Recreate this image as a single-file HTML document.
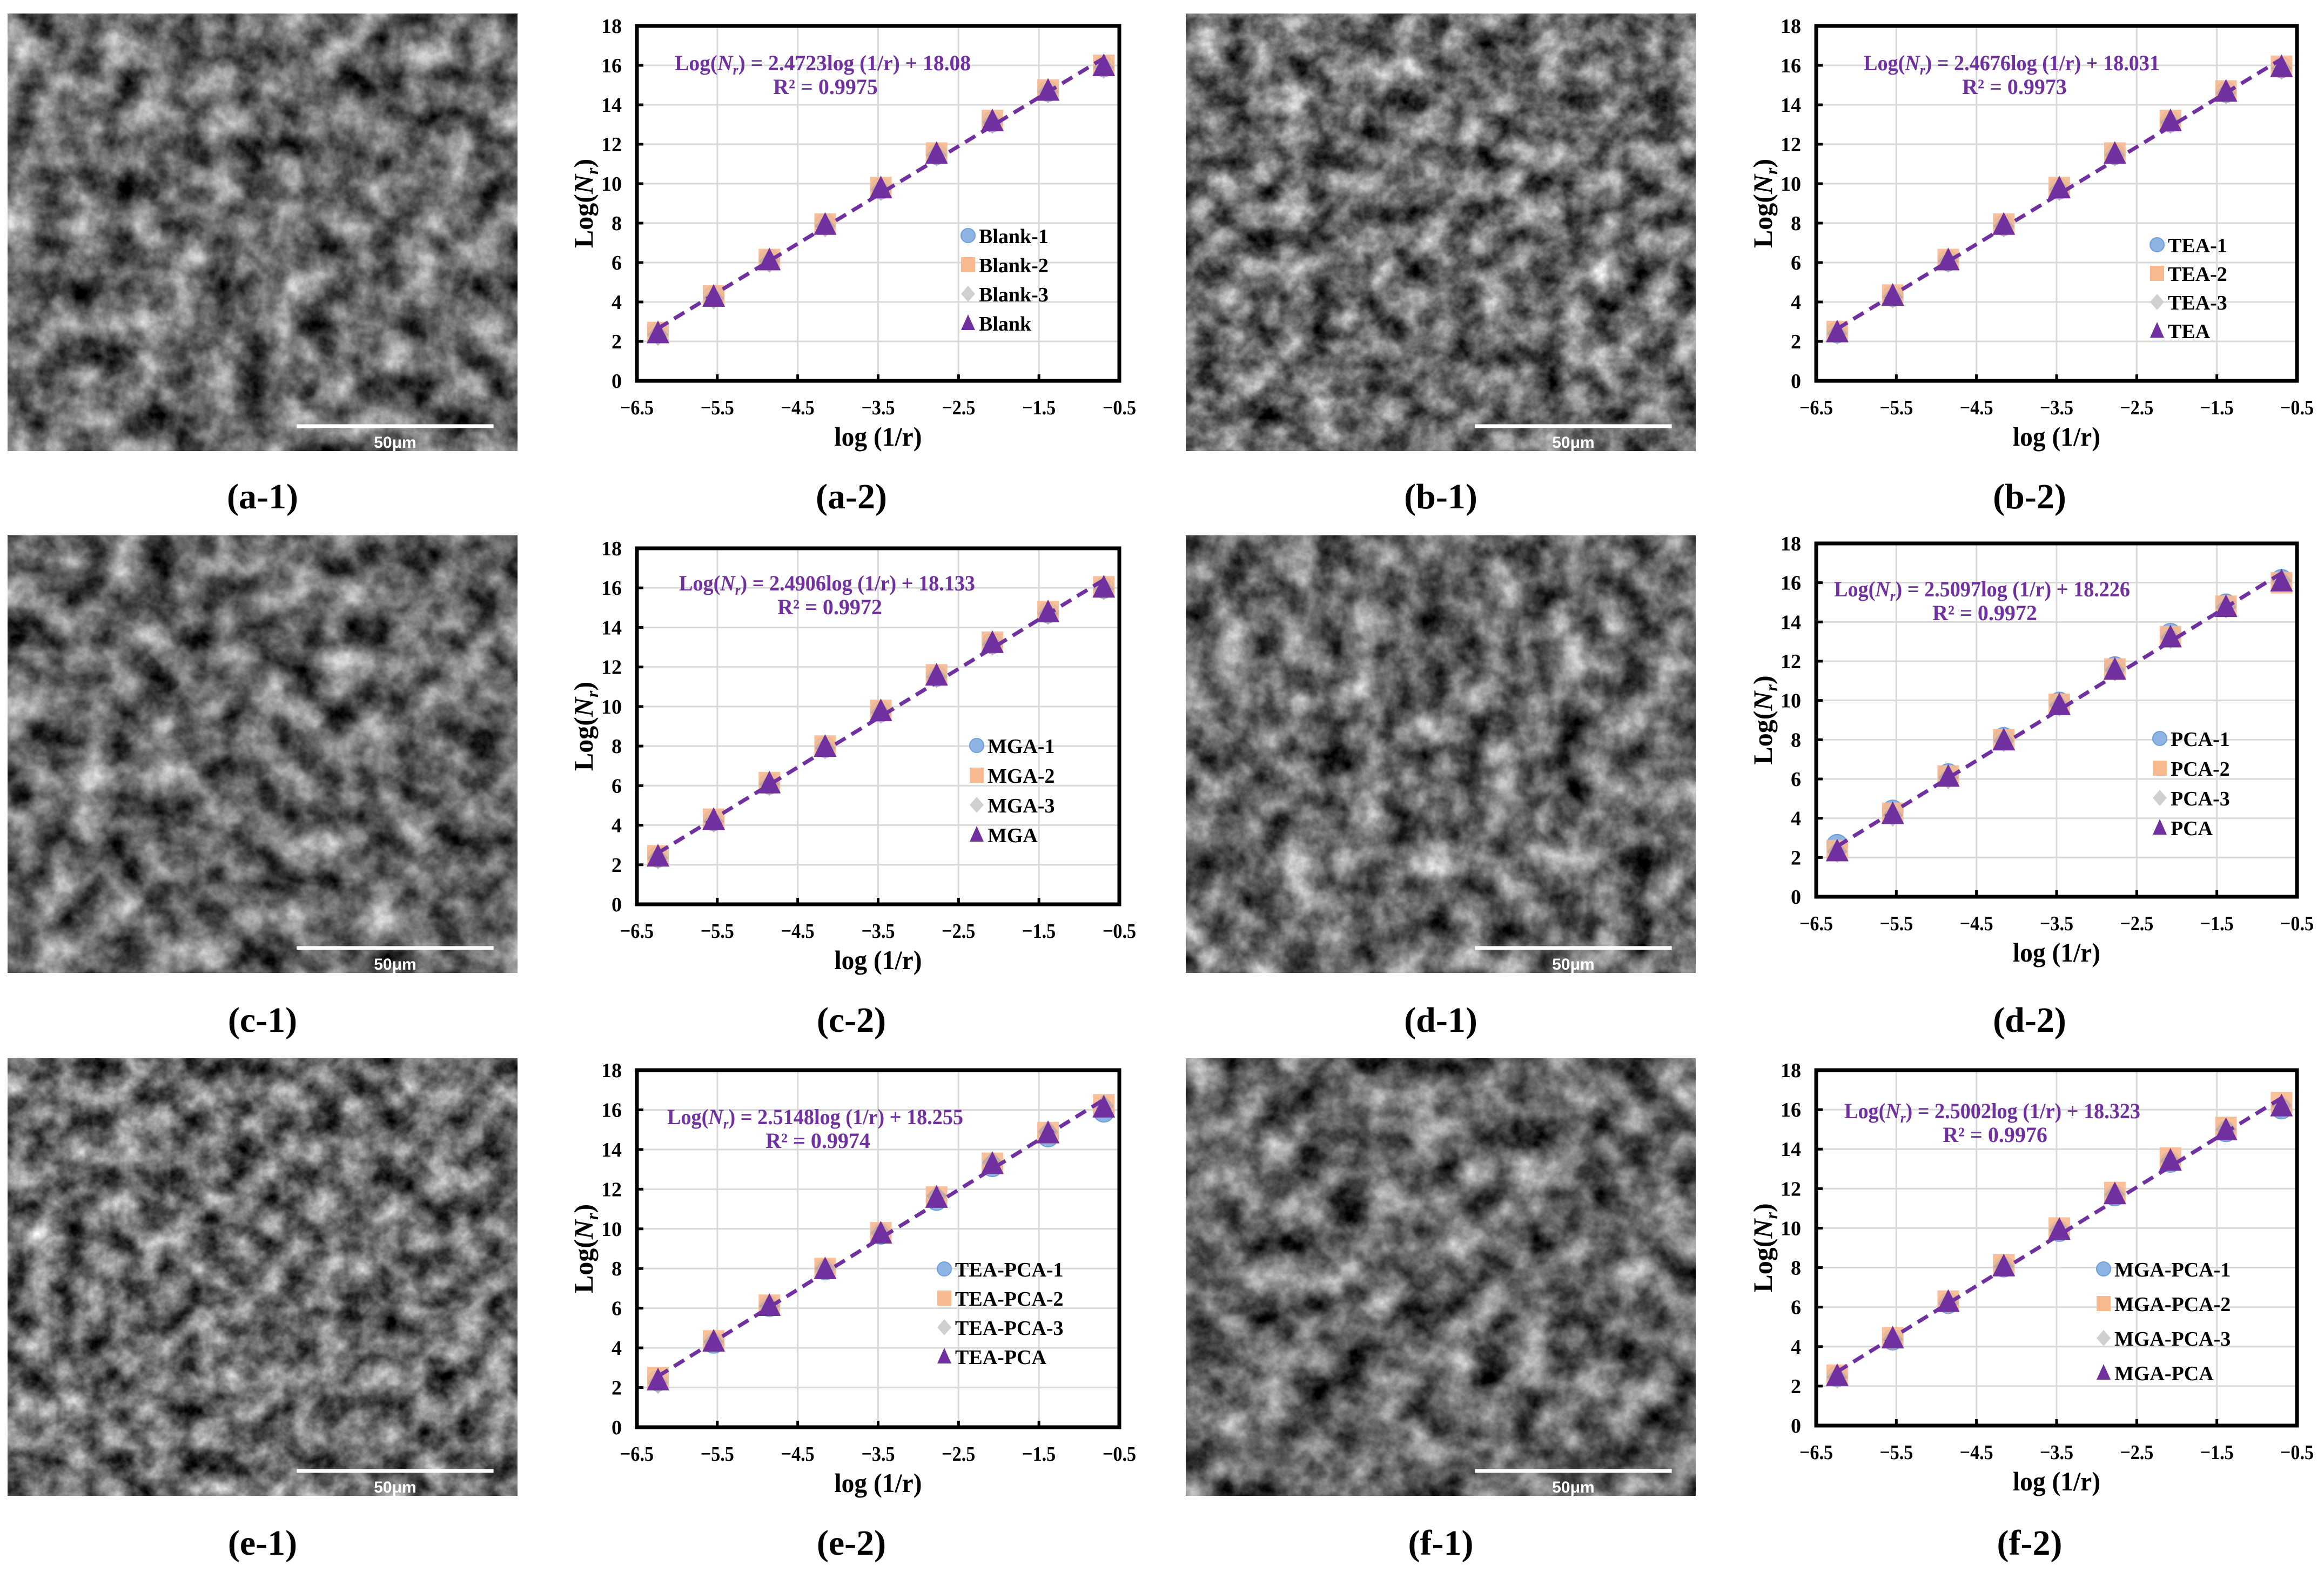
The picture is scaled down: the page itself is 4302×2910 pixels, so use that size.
<!DOCTYPE html>
<html>
<head>
<meta charset="utf-8">
<style>
html,body{margin:0;padding:0;background:#fff;}
svg{display:block;}
text{font-family:"Liberation Serif",serif;font-weight:bold;}
</style>
</head>
<body>
<svg id="fig" xmlns="http://www.w3.org/2000/svg" width="4302" height="2910" viewBox="0 0 4302 2910">
<defs>
<filter id="sem1" x="0" y="0" width="100%" height="100%" color-interpolation-filters="sRGB"><feTurbulence type="fractalNoise" baseFrequency="0.016" numOctaves="6" seed="3"/><feColorMatrix type="matrix" values="1.2 0 0 0 -0.19  1.2 0 0 0 -0.19  1.2 0 0 0 -0.19  0 0 0 0 1"/></filter>
<filter id="sem2" x="0" y="0" width="100%" height="100%" color-interpolation-filters="sRGB"><feTurbulence type="fractalNoise" baseFrequency="0.019" numOctaves="6" seed="11"/><feColorMatrix type="matrix" values="1.2 0 0 0 -0.18  1.2 0 0 0 -0.18  1.2 0 0 0 -0.18  0 0 0 0 1"/></filter>
<filter id="sem3" x="0" y="0" width="100%" height="100%" color-interpolation-filters="sRGB"><feTurbulence type="fractalNoise" baseFrequency="0.015" numOctaves="6" seed="27"/><feColorMatrix type="matrix" values="1.2 0 0 0 -0.2  1.2 0 0 0 -0.2  1.2 0 0 0 -0.2  0 0 0 0 1"/></filter>
</defs>
<rect width="4302" height="2910" fill="#fff"/>
<g id="images"></g>
<g id="charts"></g>
<g id="captions"></g>
</svg>
<script>
const NS = 'http://www.w3.org/2000/svg';
// ---- shared data ----
const xValues = [-6.238, -5.545, -4.852, -4.159, -3.466, -2.773, -2.079, -1.386, -0.693];
const xTicks = [-6.5, -5.5, -4.5, -3.5, -2.5, -1.5, -0.5];
const xTickLabels = ['\u22126.5', '\u22125.5', '\u22124.5', '\u22123.5', '\u22122.5', '\u22121.5', '\u22120.5'];
const yTicks = [0, 2, 4, 6, 8, 10, 12, 14, 16, 18];
const panelLabels = ['(a-1)', '(a-2)', '(b-1)', '(b-2)', '(c-1)', '(c-2)', '(d-1)', '(d-2)', '(e-1)', '(e-2)', '(f-1)', '(f-2)'];
// fit equations
const slopes = [2.4723, 2.4676, 2.4906, 2.5097, 2.5148, 2.5002];
const intercepts = [18.08, 18.031, 18.133, 18.226, 18.255, 18.323];
const r2Labels = ['0.9975', '0.9973', '0.9972', '0.9972', '0.9974', '0.9976'];
const seriesNames = ['Blank', 'TEA', 'MGA', 'PCA', 'TEA-PCA', 'MGA-PCA'];
// series values per chart (rep 1, rep 2, rep 3, mean)
const aRep1 = [2.45, 4.3, 6.15, 7.95, 9.75, 11.5, 13.15, 14.7, 15.95];
const aRep2 = [2.45, 4.3, 6.15, 7.95, 9.8, 11.55, 13.2, 14.75, 16.0];
const aRep3 = [2.35, 4.2, 6.05, 7.85, 9.7, 11.45, 13.1, 14.65, 15.9];
const aMean = [2.4, 4.25, 6.1, 7.9, 9.75, 11.5, 13.15, 14.7, 15.95];
const bRep1 = [2.45, 4.3, 6.1, 7.9, 9.75, 11.5, 13.15, 14.65, 15.9];
const bRep2 = [2.5, 4.35, 6.15, 7.95, 9.8, 11.55, 13.2, 14.7, 15.95];
const bRep3 = [2.4, 4.25, 6.05, 7.85, 9.7, 11.45, 13.1, 14.6, 15.85];
const bMean = [2.45, 4.3, 6.1, 7.9, 9.75, 11.5, 13.15, 14.65, 15.9];
const cRep1 = [2.4, 4.25, 6.1, 7.95, 9.75, 11.55, 13.2, 14.75, 16.0];
const cRep2 = [2.45, 4.3, 6.15, 8.0, 9.8, 11.6, 13.25, 14.8, 16.05];
const cRep3 = [2.35, 4.2, 6.05, 7.9, 9.7, 11.5, 13.15, 14.7, 15.95];
const cMean = [2.4, 4.25, 6.1, 7.95, 9.75, 11.55, 13.2, 14.75, 16.0];
const dRep1 = [2.65, 4.4, 6.25, 8.1, 9.9, 11.7, 13.4, 14.9, 16.15];
const dRep2 = [2.35, 4.25, 6.15, 8.0, 9.8, 11.6, 13.25, 14.8, 16.0];
const dRep3 = [2.3, 4.15, 6.05, 7.95, 9.75, 11.55, 13.2, 14.75, 16.1];
const dMean = [2.3, 4.2, 6.1, 7.95, 9.75, 11.55, 13.2, 14.75, 16.05];
const eRep1 = [2.35, 4.25, 6.1, 7.95, 9.75, 11.45, 13.15, 14.65, 15.9];
const eRep2 = [2.5, 4.35, 6.15, 8.0, 9.8, 11.6, 13.3, 14.85, 16.25];
const eRep3 = [2.25, 4.3, 6.1, 8.0, 9.8, 11.65, 13.35, 14.9, 16.2];
const eMean = [2.35, 4.3, 6.1, 7.95, 9.75, 11.55, 13.25, 14.8, 16.1];
const fRep1 = [2.5, 4.35, 6.2, 8.05, 9.85, 11.65, 13.35, 14.9, 16.05];
const fRep2 = [2.55, 4.45, 6.3, 8.15, 10.0, 11.8, 13.55, 15.1, 16.35];
const fRep3 = [2.45, 4.35, 6.2, 8.05, 9.9, 11.7, 13.4, 15.0, 16.2];
const fMean = [2.5, 4.4, 6.25, 8.05, 9.9, 11.7, 13.4, 14.95, 16.15];
const rep1Series = [aRep1, bRep1, cRep1, dRep1, eRep1, fRep1];
const rep2Series = [aRep2, bRep2, cRep2, dRep2, eRep2, fRep2];
const rep3Series = [aRep3, bRep3, cRep3, dRep3, eRep3, fRep3];
const meanSeries = [aMean, bMean, cMean, dMean, eMean, fMean];

// ---- layout (not data) ----
const plotBoxes = [
  [1179, 48, 2072, 705], [3362, 48, 4252, 705],
  [1179, 1015, 2072, 1674], [3362, 1006, 4252, 1660],
  [1179, 1981, 2072, 2642], [3362, 1981, 4252, 2639]
];
const eqPos = [[1523, 130], [3724, 130], [1531, 1093], [3669, 1104], [1509, 2081], [3688, 2070]];
const legendPos = [[1792, 436, 54], [3993, 453, 53], [1808, 1380, 55], [3998, 1367, 55], [1748, 2349, 54], [3894, 2349, 64]];
const imgBoxes = [[14, 25], [2195, 25], [14, 991], [2195, 991], [14, 1959], [2195, 1959]];
const IMG_W = 944, IMG_H = 810;
const capX = [486, 1576, 2667, 3757];
const capY = [919, 1888, 2856];

function mk(tag, attrs, parent) {
  const el = document.createElementNS(NS, tag);
  for (const k in attrs) el.setAttribute(k, attrs[k]);
  parent.appendChild(el);
  return el;
}
const gImg = document.getElementById('images');
const gCharts = document.getElementById('charts');
const gCap = document.getElementById('captions');

const imgNames = ['a-1', 'b-1', 'c-1', 'd-1', 'e-1', 'f-1'];
imgBoxes.forEach((b, i) => {
  const g = mk('g', {}, gImg);
  
  
  const fid = 'url(#sem' + ((i % 3) + 1) + ')';
  mk('rect', {x: b[0], y: b[1], width: IMG_W, height: IMG_H, fill: '#666', filter: fid}, g);
  const bx1 = b[0] + IMG_W * 0.567, bx2 = b[0] + IMG_W * 0.953, by = b[1] + IMG_H * 0.943;
  const bar = mk('line', {x1: bx1, y1: by, x2: bx2, y2: by, stroke: '#fff', 'stroke-width': 7}, g);
  
  
  const t = mk('text', {x: (bx1 + bx2) / 2, y: by + 40, 'text-anchor': 'middle', fill: '#fff', 'font-size': 30, style: 'font-family:"Liberation Sans",sans-serif'}, g);
  t.textContent = '50\u03bcm';
  
  
});

function drawChart(ci) {
  const [L, T, R, B] = plotBoxes[ci];
  const sx = v => L + (v - (-6.5)) / 6 * (R - L);
  const sy = v => B - v / 18 * (B - T);
  const g = mk('g', {}, gCharts);
  
  
  const grid = mk('g', {}, g);
  
  
  xTicks.forEach(v => mk('line', {x1: sx(v), y1: T, x2: sx(v), y2: B, stroke: '#d9d9d9', 'stroke-width': 3}, grid));
  yTicks.forEach(v => mk('line', {x1: L, y1: sy(v), x2: R, y2: sy(v), stroke: '#d9d9d9', 'stroke-width': 3}, grid));
  xTicks.forEach((v, i) => {
    mk('line', {x1: sx(v), y1: B, x2: sx(v), y2: B - 12, stroke: '#000', 'stroke-width': 5}, g);
    const t = mk('text', {x: sx(v), y: B + 62, 'text-anchor': 'middle', 'font-size': 38, textLength: 62, lengthAdjust: 'spacingAndGlyphs'}, g);
    t.textContent = xTickLabels[i];
    
    
  });
  yTicks.forEach(v => {
    mk('line', {x1: L, y1: sy(v), x2: L + 12, y2: sy(v), stroke: '#000', 'stroke-width': 5}, g);
    const t = mk('text', {x: L - 28, y: sy(v) + 13, 'text-anchor': 'end', 'font-size': 38}, g);
    t.textContent = String(v);
    
    
  });
  const fr = mk('rect', {x: L, y: T, width: R - L, height: B - T, fill: 'none', stroke: '#000', 'stroke-width': 7}, g);
  
  
  const xt = mk('text', {x: (L + R) / 2, y: B + 120, 'text-anchor': 'middle', 'font-size': 50, textLength: 162, lengthAdjust: 'spacingAndGlyphs'}, g);
  xt.textContent = 'log (1/r)';
  
  
  const yc = (T + B) / 2;
  const yt = mk('text', {x: 0, y: 0, 'text-anchor': 'middle', 'font-size': 50, transform: 'translate(' + (L - 82) + ',' + yc + ') rotate(-90)'}, g);
  yt.innerHTML = 'Log(<tspan font-style="italic">N</tspan><tspan font-style="italic" font-size="32" dy="10">r</tspan><tspan dy="-10">)</tspan>';
  
  
  const s1 = mk('g', {}, g);
  
  
  rep1Series[ci].forEach((v, i) => mk('circle', {cx: sx(xValues[i]), cy: sy(v), r: 19, fill: '#8eb4e3', stroke: '#6f9fd8', 'stroke-width': 2}, s1));
  const s2 = mk('g', {}, g);
  
  
  rep2Series[ci].forEach((v, i) => mk('rect', {x: sx(xValues[i]) - 20, y: sy(v) - 20, width: 40, height: 40, fill: '#f8b98f', 'fill-opacity': 0.9}, s2));
  const s3 = mk('g', {}, g);
  
  
  rep3Series[ci].forEach((v, i) => { const x = sx(xValues[i]), y = sy(v); mk('polygon', {points: [x, y - 21, x + 19, y, x, y + 21, x - 19, y].join(','), fill: '#b8a8a8', 'fill-opacity': 0.8}, s3); });
  const s4 = mk('g', {}, g);
  
  
  meanSeries[ci].forEach((v, i) => { const x = sx(xValues[i]), y = sy(v); mk('polygon', {points: [x, y - 24, x + 21, y + 18, x - 21, y + 18].join(','), fill: '#7030a0'}, s4); });
  const x0 = xValues[0], x1 = xValues[xValues.length - 1];
  const fl = mk('line', {x1: sx(x0), y1: sy(slopes[ci] * x0 + intercepts[ci]), x2: sx(x1), y2: sy(slopes[ci] * x1 + intercepts[ci]), stroke: '#7030a0', 'stroke-width': 7, 'stroke-dasharray': '22 13'}, g);
  
  
  const [ex, ey] = eqPos[ci];
  const eq = mk('text', {x: ex, y: ey, 'text-anchor': 'middle', 'font-size': 40, fill: '#7030a0', textLength: 548, lengthAdjust: 'spacingAndGlyphs'}, g);
  eq.innerHTML = 'Log(<tspan font-style="italic">N</tspan><tspan font-style="italic" font-size="26" dy="8">r</tspan><tspan dy="-8">) = ' + slopes[ci] + 'log (1/r) + ' + intercepts[ci] + '</tspan>';
  
  
  const r2 = mk('text', {x: ex + 5, y: ey + 44, 'text-anchor': 'middle', 'font-size': 40, fill: '#7030a0'}, g);
  r2.textContent = 'R\u00b2 = ' + r2Labels[ci];
  
  
  const [lx, ly, ld] = legendPos[ci];
  const lg = mk('g', {}, g);
  
  
  const names = [seriesNames[ci] + '-1', seriesNames[ci] + '-2', seriesNames[ci] + '-3', seriesNames[ci]];
  names.forEach((n, k) => {
    const y = ly + k * ld;
    const e = mk('g', {}, lg);
    
    
    if (k === 0) mk('circle', {cx: lx, cy: y, r: 13, fill: '#8eb4e3', stroke: '#6f9fd8', 'stroke-width': 2}, e);
    if (k === 1) mk('rect', {x: lx - 13, y: y - 14, width: 26, height: 28, fill: '#f8b98f'}, e);
    if (k === 2) mk('polygon', {points: [lx, y - 15, lx + 13, y, lx, y + 15, lx - 13, y].join(','), fill: '#d0d0d0'}, e);
    if (k === 3) mk('polygon', {points: [lx, y - 16, lx + 13, y + 13, lx - 13, y + 13].join(','), fill: '#7030a0'}, e);
    const t = mk('text', {x: lx + 20, y: y + 14, 'font-size': 38}, e);
    t.textContent = n;
  });
}
for (let ci = 0; ci < 6; ci++) drawChart(ci);

panelLabels.forEach((p, i) => {
  const row = Math.floor(i / 4), col = i % 4;
  const t = mk('text', {x: capX[col], y: capY[row] + 22, 'text-anchor': 'middle', 'font-size': 66}, gCap);
  t.textContent = p;
  
  
});
</script>
</body>
</html>
